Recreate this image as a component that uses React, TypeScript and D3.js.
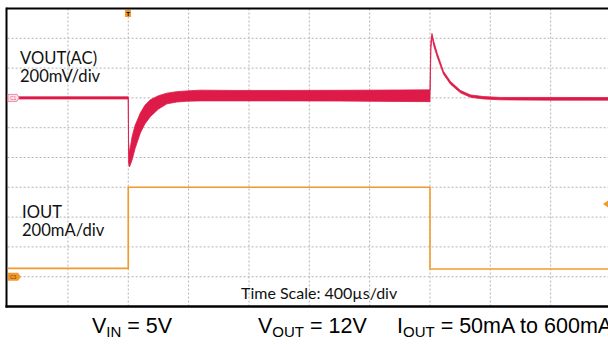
import React from "react";
import * as d3 from "d3";

// VOUT(AC) envelope, time in µs relative to trigger, values in mV
const vTime = [-800, 0, 2, 8, 25, 45, 80, 110, 146, 200, 256, 320, 389, 477, 700, 1000, 1400, 1800, 2000, 2006, 2013, 2025, 2048, 2090, 2136, 2202, 2269, 2355, 2468, 2800, 3200];
const vUpper = [7, 7, -300, -369, -260, -185, -101, -50, -13, 15, 32, 42, 47, 52, 50, 50, 51, 53, 54, 380, 432, 380, 300, 178, 110, 50, 20, 9, 3, 3, 2];
const vLower = [-7, -7, -440, -463, -416, -340, -235, -175, -126, -75, -40, -28, -22, -20, -20, -20, -21, -24, -25, 330, 415, 350, 275, 158, 92, 34, 4, -7, -13, -15, -15];

// IOUT step, mA
const iTime = [-800, 0, 2000, 3200];
const iVal = [56, 600, 52, 52];

const W = 608, H = 345;
const X0 = 7.6, DX = 60.34, Y0 = 8.5, DY = 29.8;
const xDivs = d3.range(1, 10);
const yDivs = d3.range(1, 10);

export default function App() {
  const x = d3.scaleLinear().domain([-800, 3200]).range([X0, X0 + 10 * DX]);
  const yV = d3.scaleLinear().domain([600, -1400]).range([Y0, Y0 + 10 * DY]);
  const yI = d3.scaleLinear().domain([1800, -200]).range([Y0, Y0 + 10 * DY]);

  const vIdx = vTime.map((_, i) => i);
  const area = d3
    .area<number>()
    .x((i) => x(vTime[i]))
    .y0((i) => yV(vLower[i]))
    .y1((i) => yV(vUpper[i]));

  const iLine = d3
    .line<number>()
    .x((i) => x(iTime[i]))
    .y((i) => yI(iVal[i]))
    .curve(d3.curveStepAfter);

  const red = "#de1a48";
  const orange = "#f39a2c";
  const bottom = Y0 + 10 * DY;
  const c1y = yV(0);
  const c3y = yI(0);
  const trigY = yI(488);

  return (
    <svg width={W} height={H} style={{ position: "absolute", left: 0, top: 0, background: "#fff" }}>
      <rect x={0} y={0} width={W} height={H} fill="#fff" />
      {xDivs.map((d) => (
        <line key={"vx" + d} x1={X0 + d * DX} x2={X0 + d * DX} y1={Y0} y2={bottom} stroke="#b4b4b4" strokeWidth={1} strokeDasharray="2,2" />
      ))}
      {yDivs.map((d) => (
        <line key={"hy" + d} x1={X0} x2={W} y1={Y0 + d * DY} y2={Y0 + d * DY} stroke="#b4b4b4" strokeWidth={1} strokeDasharray="2,2" />
      ))}
      {/* border */}
      <line x1={6.5} x2={W} y1={Y0} y2={Y0} stroke="#000" strokeWidth={2} />
      <line x1={6.5} x2={6.5} y1={Y0 - 1} y2={bottom + 1} stroke="#000" strokeWidth={2} />
      <line x1={5.5} x2={W} y1={bottom} y2={bottom} stroke="#000" strokeWidth={2.5} />

      {/* IOUT */}
      <path d={iLine(d3.range(iTime.length)) || ""} fill="none" stroke={orange} strokeWidth={1.6} />
      {/* VOUT */}
      <path d={area(vIdx) || ""} fill={red} stroke={red} strokeWidth={0.8} />

      {/* channel tags */}
      <path d={`M8,${c1y - 3.5} h9 l2,3.5 l-2,3.5 h-9 z`} fill="#fde6ec" stroke="#f08aa4" strokeWidth={1} />
      <text x={10} y={c1y + 2} fontSize={5} fill="#e05a7a" fontFamily="Liberation Sans">C1</text>
      <path d={`M8,${c3y - 4} h10 l3,4 l-3,4 h-10 z`} fill={orange} />
      <text x={10} y={c3y + 2} fontSize={5} fill="#7a3d00" fontFamily="Liberation Sans">C3</text>
      {/* trigger marker */}
      <rect x={125} y={10} width={6} height={7} fill={orange} />
      <text x={126.3} y={16} fontSize={6} fill="#000" fontFamily="Liberation Sans" fontWeight="bold">T</text>
      <path d={`M603,${trigY} l5,-3.5 v7 z`} fill={orange} />

      {/* labels */}
      <g fontFamily="Lato" fontSize={16.6} fill="#111">
        <text x={20} y={64}>VOUT(AC)</text>
        <text x={20} y={82}>200mV/div</text>
        <text x={22} y={218}>IOUT</text>
        <text x={22} y={236}>200mA/div</text>
      </g>
      <text x={241} y={299} fontFamily="Lato" fontSize={16} fill="#111">Time Scale: 400µs/div</text>

      <g fontFamily="Liberation Sans" fontSize={21.5} fill="#000">
        <text x={92} y={333}>V<tspan fontSize={15} dy={4}>IN</tspan><tspan dy={-4}> = 5V</tspan></text>
        <text x={258} y={333}>V<tspan fontSize={15} dy={4}>OUT</tspan><tspan dy={-4}> = 12V</tspan></text>
        <text x={397} y={333}>I<tspan fontSize={15} dy={4}>OUT</tspan><tspan dy={-4}> = 50mA to 600mA</tspan></text>
      </g>
    </svg>
  );
}
